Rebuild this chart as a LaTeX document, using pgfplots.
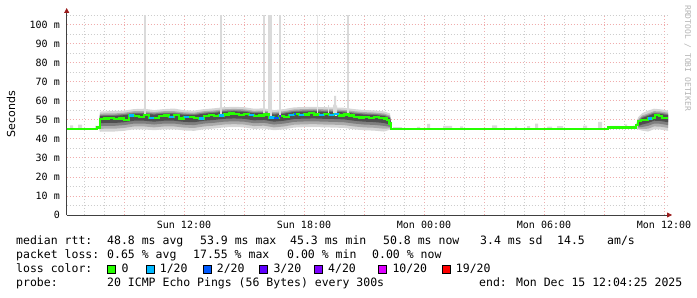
\documentclass[border=0pt]{standalone}
\usepackage{fontspec}
\setmainfont{DejaVu Sans}
\newfontfamily\monof{DejaVu Sans Mono}
\usepackage{pgfplots}
\usepackage{pgfplotstable}
\pgfplotsset{compat=1.18}
\usepgfplotslibrary{fillbetween}
\usetikzlibrary{arrows.meta}

\definecolor{lossA}{HTML}{26FF00}
\definecolor{lossB}{HTML}{00B8FF}
\definecolor{lossC}{HTML}{0059FF}
\definecolor{lossD}{HTML}{5E00FF}
\definecolor{lossE}{HTML}{7E00FF}
\definecolor{lossF}{HTML}{DD00FF}
\definecolor{lossG}{HTML}{FF0000}
\definecolor{smA}{HTML}{D6D6D6}
\definecolor{smB}{HTML}{ABABAB}
\definecolor{smC}{HTML}{7E7E7E}
\definecolor{smD}{HTML}{4E4E4E}
\definecolor{spk}{HTML}{DADADA}
\definecolor{majgrid}{RGB}{240,172,172}
\definecolor{mingrid}{RGB}{205,205,205}
\definecolor{axisc}{HTML}{404040}
\definecolor{arrowc}{HTML}{9B1C1C}
\definecolor{wmark}{HTML}{B4B4B4}

\pgfplotstableread{
h     l1   l2   l3   l4   u4   u3   u2   u1
7.74  45.4 45.4 45.4 45.4 45.4 45.4 45.4 45.4
7.80  43.7 45.2 46.7 48.2 51.9 52.5 53.2 54.3
8.00  43.8 45.3 46.8 48.3 52.0 52.6 53.3 54.4
8.50  43.8 45.3 46.8 48.3 52.0 52.6 53.3 54.6
9.00  44.2 45.7 47.2 48.7 52.4 53.0 53.7 54.8
9.50  45.0 46.5 48.0 49.5 53.2 53.8 54.5 55.6
10.00 45.0 46.5 48.0 49.5 53.2 53.8 54.5 55.8
10.50 44.5 46.0 47.5 49.0 52.7 53.3 54.0 55.1
11.00 45.0 46.5 48.0 49.5 53.2 53.8 54.5 55.6
11.50 45.0 46.5 48.0 49.5 53.2 53.8 54.5 55.9
12.00 44.4 45.9 47.4 48.9 52.6 53.2 53.9 55.0
12.50 44.2 45.7 47.2 48.7 52.4 53.0 53.7 54.8
13.00 45.0 46.5 48.0 49.5 53.2 53.8 54.5 55.6
13.50 45.4 46.9 48.4 49.9 53.6 54.2 54.9 56.0
14.00 46.0 47.5 49.0 50.5 54.2 54.8 55.5 56.6
14.50 46.2 47.7 49.2 50.7 54.4 55.0 55.7 56.8
15.00 46.0 47.5 49.0 50.5 54.2 54.8 55.5 56.6
15.50 45.2 46.7 48.2 49.7 53.4 54.0 54.7 55.8
16.00 45.4 46.9 48.4 49.9 53.6 54.2 54.9 56.0
16.50 44.5 46.0 47.5 49.0 52.7 53.3 54.0 55.1
17.00 45.0 46.5 48.0 49.5 53.2 53.8 54.5 55.6
17.50 45.9 47.4 48.9 50.4 54.1 54.7 55.4 56.5
18.00 46.1 47.6 49.1 50.6 54.3 54.9 55.6 56.7
18.50 46.2 47.7 49.2 50.7 54.4 55.0 55.7 56.8
19.00 46.0 47.5 49.0 50.5 54.2 54.8 55.5 56.6
19.50 45.9 47.4 48.9 50.4 54.1 54.7 55.4 56.5
20.00 45.7 47.2 48.7 50.2 53.9 54.5 55.2 56.3
20.50 45.0 46.5 48.0 49.5 53.2 53.8 54.5 55.6
21.00 44.5 46.0 47.5 49.0 52.7 53.3 54.0 55.1
21.50 44.3 45.8 47.3 48.8 52.5 53.1 53.8 54.9
22.00 43.8 45.3 46.8 48.3 52.0 52.6 53.3 54.4
22.30 44.8 45.5 46.3 47.5 50.9 51.5 52.2 53.3
22.40 45.4 45.4 45.4 45.4 45.4 45.4 45.4 45.4
}\smokeA

\pgfplotstableread{
h     l1   l2   l3   l4   u4   u3   u2   u1
34.55 45.5 45.5 45.5 45.5 45.5 45.5 45.5 45.5
34.70 45.0 45.4 46.0 46.6 48.7 49.3 50.0 51.2
34.90 44.3 45.2 46.2 47.5 50.9 51.5 52.2 53.4
35.20 43.8 45.3 46.8 48.3 52.0 52.6 53.3 54.8
35.50 45.0 46.5 48.0 49.5 53.2 53.8 54.5 55.8
35.80 44.9 46.4 47.9 49.4 53.1 53.7 54.4 55.5
36.20 44.2 45.7 47.2 48.7 52.4 53.0 53.7 54.8
}\smokeB

\newcommand{\legfont}{\monof\fontsize{11.5bp}{14bp}\selectfont}

\begin{document}
\begin{tikzpicture}[x=1bp,y=1bp]
\path (0,0) rectangle (697,297);
\begin{axis}[
  at={(66.7bp,82bp)}, anchor=south west,
  scale only axis, width=601.3bp, height=200bp,
  xmin=6.135, xmax=36.2, ymin=0, ymax=105,
  axis x line=bottom, axis y line=left,
  axis line style={draw=axisc, line width=0.8bp},
  x axis line style={-{Triangle[length=5bp,width=5bp,color=arrowc]}, shorten >=-4bp},
  y axis line style={-{Triangle[length=5bp,width=5bp,color=arrowc]}, shorten >=-7bp},
  xtick={9,12,...,36},
  xticklabels={,Sun 12:00,,Sun 18:00,,Mon 00:00,,Mon 06:00,,Mon 12:00},
  minor xtick={7,8,10,11,13,14,16,17,19,20,22,23,25,26,28,29,31,32,34,35},
  ytick={0,10,...,100},
  yticklabels={0,10 m,20 m,30 m,40 m,50 m,60 m,70 m,80 m,90 m,100 m},
  minor ytick={5,15,...,105},
  grid=both,
  major grid style={draw=majgrid, line width=0.75bp, dash pattern=on 1bp off 2bp},
  minor grid style={draw=mingrid, line width=0.75bp, dash pattern=on 1bp off 2bp},
  major tick length=0pt, minor tick length=0pt,
  /pgf/number format/assume math mode=true,
  xticklabel style={font=\monof\fontsize{10bp}{12bp}\selectfont, anchor=base, inner sep=0pt, yshift=-13.5bp},
  yticklabel style={font=\monof\fontsize{10bp}{12bp}\selectfont, anchor=east, inner sep=0pt, xshift=-6.7bp},
  clip=true,
]
% tall light spikes
\addplot[fill=spk, draw=none] coordinates {(10.0,52)(10.0,105)(10.1,105)(10.1,52)} -- cycle;
\addplot[fill=spk, draw=none] coordinates {(13.8,52)(13.8,105)(13.9,105)(13.9,52)} -- cycle;
\addplot[fill=spk, draw=none] coordinates {(15.95,52)(15.95,105)(16.05,105)(16.05,52)} -- cycle;
\addplot[fill=spk, draw=none] coordinates {(16.2,52)(16.2,105)(16.4,105)(16.4,52)} -- cycle;
\addplot[fill=spk, draw=none] coordinates {(16.75,52)(16.75,105)(16.85,105)(16.85,52)} -- cycle;
\addplot[fill=spk!70!white, draw=none] coordinates {(18.65,52)(18.65,105)(18.7,105)(18.7,52)} -- cycle;
\addplot[fill=spk, draw=none] coordinates {(20.15,52)(20.15,105)(20.25,105)(20.25,52)} -- cycle;
\addplot[fill=spk, draw=none] coordinates {(19.2,52)(19.2,58)(19.25,58)(19.25,52)} -- cycle;
\addplot[fill=spk, draw=none] coordinates {(19.45,52)(19.45,58)(19.5,58)(19.5,62.5)(19.6,62.5)(19.6,57.5)(19.65,57.5)(19.65,52)} -- cycle;
% small bumps on the baseline
\addplot[fill=spk, draw=none, const plot] coordinates {(6.135,45.3)(6.3,47.1)(6.45,45.3)(6.7,47.5)(6.9,45.3)(7.55,46.8)(7.75,45.3)} -- cycle;
\addplot[fill=spk, draw=none, const plot] coordinates {(22.4,45.3)(22.45,46.2)(22.9,45.3)(23.65,46.3)(23.8,45.3)(24.15,47.8)(24.3,45.3)(24.95,46.8)(25.4,45.3)(25.8,46.5)(25.95,45.3)(27.4,47.1)(27.65,45.3)(28.55,46.4)(28.65,45.3)(29.15,46.6)(29.3,45.3)(29.55,48.0)(29.7,45.3)(30.15,46.4)(30.4,45.3)(30.65,46.7)(30.95,45.3)(31.95,46.9)(32.15,45.3)(32.7,48.9)(32.9,45.3)(33.3,46.8)(33.8,45.3)(34.05,47.6)(34.15,45.3)(34.45,46.9)(34.7,45.3)} -- cycle;
% smoke, period A
\addplot[draw=none, name path=aL1] table[x=h,y=l1]{\smokeA};
\addplot[draw=none, name path=aL2] table[x=h,y=l2]{\smokeA};
\addplot[draw=none, name path=aL3] table[x=h,y=l3]{\smokeA};
\addplot[draw=none, name path=aL4] table[x=h,y=l4]{\smokeA};
\addplot[draw=none, name path=aU4] table[x=h,y=u4]{\smokeA};
\addplot[draw=none, name path=aU3] table[x=h,y=u3]{\smokeA};
\addplot[draw=none, name path=aU2] table[x=h,y=u2]{\smokeA};
\addplot[draw=none, name path=aU1] table[x=h,y=u1]{\smokeA};
\addplot[fill=smA, draw=none, on layer=main] fill between[of=aL1 and aU1];
\addplot[fill=smB, draw=none, on layer=main] fill between[of=aL2 and aU2];
\addplot[fill=smC, draw=none, on layer=main] fill between[of=aL3 and aU3];
\addplot[fill=smD, draw=none, on layer=main] fill between[of=aL4 and aU4];
% smoke, period B
\addplot[draw=none, name path=bL1] table[x=h,y=l1]{\smokeB};
\addplot[draw=none, name path=bL2] table[x=h,y=l2]{\smokeB};
\addplot[draw=none, name path=bL3] table[x=h,y=l3]{\smokeB};
\addplot[draw=none, name path=bL4] table[x=h,y=l4]{\smokeB};
\addplot[draw=none, name path=bU4] table[x=h,y=u4]{\smokeB};
\addplot[draw=none, name path=bU3] table[x=h,y=u3]{\smokeB};
\addplot[draw=none, name path=bU2] table[x=h,y=u2]{\smokeB};
\addplot[draw=none, name path=bU1] table[x=h,y=u1]{\smokeB};
\addplot[fill=smA, draw=none, on layer=main] fill between[of=bL1 and bU1];
\addplot[fill=smB, draw=none, on layer=main] fill between[of=bL2 and bU2];
\addplot[fill=smC, draw=none, on layer=main] fill between[of=bL3 and bU3];
\addplot[fill=smD, draw=none, on layer=main] fill between[of=bL4 and bU4];
% median rtt (0 loss)
\addplot[lossA, line width=2.3bp, const plot] coordinates {
(6.135,45.3)(7.6,45.3)(7.65,45.9)(7.8,50.3)(8.0,50.6)(8.25,50.9)(8.5,50.3)(8.75,50.6)(9.0,50.0)
(9.25,52.2)(9.5,52.0)(9.75,51.6)(10.0,52.6)(10.25,51.0)(10.5,50.8)(10.75,51.8)(11.0,52.2)
(11.25,51.4)(11.5,52.4)(11.75,50.7)(12.0,51.3)(12.25,51.5)(12.5,50.8)(12.75,50.6)(13.0,51.8)
(13.25,52.5)(13.5,52.0)(13.75,52.3)(14.0,52.8)(14.25,53.3)(14.5,53.0)(14.75,52.6)(15.0,53.2)
(15.25,52.4)(15.5,51.8)(15.75,52.2)(16.0,52.8)(16.25,51.2)(16.5,51.0)(16.75,52.0)(17.0,51.5)
(17.25,52.6)(17.5,53.0)(17.75,52.4)(18.0,52.8)(18.25,53.4)(18.5,52.8)(18.75,52.6)(19.0,53.0)
(19.25,52.5)(19.5,52.9)(19.75,52.3)(20.0,52.7)(20.25,52.2)(20.5,51.6)(20.75,51.2)(21.0,51.4)
(21.25,51.0)(21.5,51.3)(21.75,50.9)(22.0,50.6)(22.15,49.8)(22.25,48.0)(22.35,45.3)
(33.2,45.9)(34.6,47.2)(34.7,49.2)(34.85,49.7)(35.05,49.8)(35.2,50.6)(35.4,51.0)(35.55,52.4)
(35.75,52.0)(35.9,50.8)(36.2,50.8)};
% median segments with 1/20 loss
\addplot[lossB, line width=2.3bp] coordinates {(9.25,52.2)(9.5,52.2)};
\addplot[lossB, line width=2.3bp] coordinates {(10.25,51.0)(10.5,51.0)};
\addplot[lossB, line width=2.3bp] coordinates {(11.25,51.4)(11.5,51.4)};
\addplot[lossB, line width=2.3bp] coordinates {(12.0,51.3)(12.25,51.3)};
\addplot[lossB, line width=2.3bp] coordinates {(12.75,50.6)(13.0,50.6)};
\addplot[lossB, line width=2.3bp] coordinates {(13.75,52.3)(14.0,52.3)};
\addplot[lossB, line width=2.3bp] coordinates {(15.25,52.4)(15.5,52.4)};
\addplot[lossB, line width=2.3bp] coordinates {(16.25,51.2)(16.5,51.2)};
\addplot[lossB, line width=2.3bp] coordinates {(17.25,52.6)(17.5,52.6)};
\addplot[lossB, line width=2.3bp] coordinates {(17.75,52.4)(18.0,52.4)};
\addplot[lossB, line width=2.3bp] coordinates {(18.75,52.6)(19.0,52.6)};
\addplot[lossB, line width=2.3bp] coordinates {(19.25,52.5)(19.5,52.5)};
\addplot[lossB, line width=2.3bp] coordinates {(19.5,52.9)(19.75,52.9)};
\addplot[lossB, line width=2.3bp] coordinates {(35.2,50.6)(35.4,50.6)};
% 2/20 and 3/20 loss
\addplot[lossC, line width=2.3bp] coordinates {(16.5,51.0)(16.75,51.0)};
\addplot[lossC, line width=2.3bp] coordinates {(17.5,53.0)(17.62,53.0)};
\addplot[lossD, line width=2.3bp] coordinates {(16.75,52.0)(16.85,52.0)};
\end{axis}

% y axis label and watermark
\node[rotate=90, font=\fontsize{11bp}{13bp}\selectfont, inner sep=0pt] at (11,183) {Seconds};
\node[rotate=-90, font=\monof\fontsize{8bp}{10bp}\selectfont, text=wmark, inner sep=0pt, anchor=west] at (687.7,292) {RRDTOOL / TOBI OETIKER};

% legend text
\begin{scope}[every node/.style={anchor=base west, inner sep=0pt, font=\legfont}]
\node at (16,52.7) {median rtt:};
\node at (107,52.7) {48.8 ms avg};
\node at (200,52.7) {53.9 ms max};
\node at (290,52.7) {45.3 ms min};
\node at (383,52.7) {50.8 ms now};
\node at (480,52.7) {3.4 ms sd};
\node at (557,52.7) {14.5};
\node at (607,52.7) {am/s};

\node at (16,38.7) {packet loss:};
\node at (107,38.7) {0.65 \% avg};
\node at (193,38.7) {17.55 \% max};
\node at (287,38.7) {0.00 \% min};
\node at (372,38.7) {0.00 \% now};

\node at (16,24.7) {loss color:};
\node at (121.3,24.7) {0};
\node at (159.7,24.7) {1/20};
\node at (216.7,24.7) {2/20};
\node at (273.3,24.7) {3/20};
\node at (328,24.7) {4/20};
\node at (392.3,24.7) {10/20};
\node at (455.7,24.7) {19/20};

\node at (16,10.7) {probe:};
\node at (107,10.7) {20 ICMP Echo Pings (56 Bytes) every 300s};
\node at (479,10.7) {end: Mon Dec 15 12:04:25 2025};
\end{scope}
% legend colour boxes
\foreach \bx/\bc in {107.3/lossA,145.7/lossB,202.7/lossC,259.3/lossD,314/lossE,378.3/lossF,441.7/lossG}{
  \draw[fill=\bc, draw=black, line width=0.8bp] (\bx+0.4,23.2) rectangle (\bx+8.3,31.2);
}
\end{tikzpicture}
\end{document}
